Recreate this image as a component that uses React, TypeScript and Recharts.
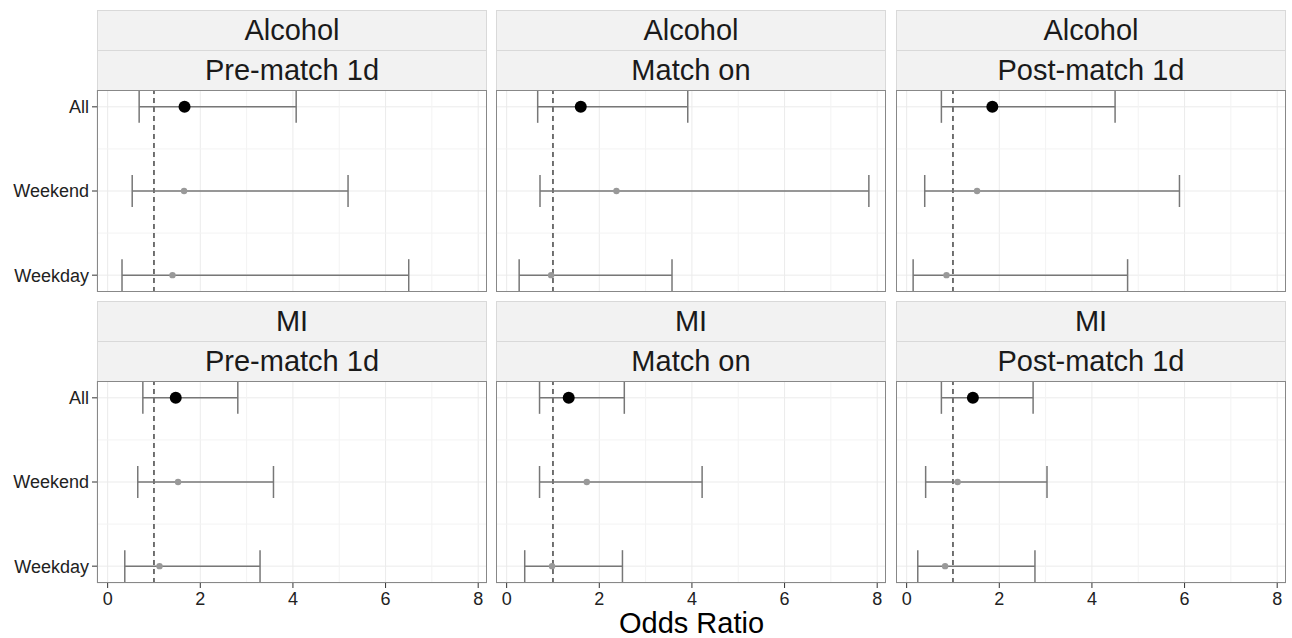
import React from 'react';
import { ComposedChart, Scatter, ErrorBar, XAxis, YAxis, CartesianGrid, ReferenceLine } from 'recharts';

const categories = ['All', 'Weekend', 'Weekday'];
const outcomes = ['Alcohol', 'MI'];
const periods = ['Pre-match 1d', 'Match on', 'Post-match 1d'];
const xTicks = [0, 2, 4, 6, 8];
const xMinor = [1, 3, 5, 7];

// odds ratio + CI per period (rows) and category (cols)
const alcoholOR = [[1.66, 1.65, 1.40], [1.60, 2.37, 0.96], [1.85, 1.52, 0.86]];
const alcoholLower = [[0.68, 0.53, 0.31], [0.67, 0.72, 0.27], [0.75, 0.39, 0.14]];
const alcoholUpper = [[4.07, 5.19, 6.50], [3.91, 7.82, 3.57], [4.50, 5.89, 4.77]];

const miOR = [[1.47, 1.52, 1.12], [1.34, 1.73, 0.98], [1.43, 1.10, 0.83]];
const miLower = [[0.76, 0.65, 0.37], [0.71, 0.71, 0.39], [0.75, 0.41, 0.24]];
const miUpper = [[2.81, 3.58, 3.29], [2.54, 4.22, 2.50], [2.73, 3.03, 2.77]];

const FONT = '"Liberation Sans", Arial, sans-serif';
const PANEL_W = 390;
const PANEL_H = 202;
const colLeft = [97, 496, 896];
const rowTop = [90, 381];

function buildRows(or: number[], lo: number[], hi: number[]) {
    return categories.map((c, i) => ({
        name: c,
        pos: i + 1,
        or: or[i],
        err: [or[i] - lo[i], hi[i] - or[i]],
    }));
}

const bigDot = (props: any) => <circle cx={props.cx} cy={props.cy} r={6} fill="#000" />;
const smallDot = (props: any) => <circle cx={props.cx} cy={props.cy} r={3.2} fill="#999" />;

function Panel({ rows, col, row }: { rows: any[], col: number, row: number }) {
    const showY = col === 0;
    const showX = row === 1;
    const width = PANEL_W + (showY ? colLeft[0] : 0);
    const height = PANEL_H + (showX ? 30 : 0);
    const left = showY ? 0 : colLeft[col];
    const allRow = rows.filter(r => r.name === 'All');
    const subRows = rows.filter(r => r.name !== 'All');
    const tickStyle = { fill: '#222', fontSize: 18, fontFamily: FONT };

    return (
        <div style={{ position: 'absolute', left, top: rowTop[row], width, height }}>
            <ComposedChart width={width} height={height} margin={{ top: 0, right: 0, bottom: 0, left: 0 }}>
                <XAxis
                    type="number"
                    dataKey="or"
                    domain={[-0.23, 8.19]}
                    allowDataOverflow
                    ticks={xTicks}
                    hide={!showX}
                    height={30}
                    axisLine={false}
                    tickLine={{ stroke: '#333' }}
                    tickSize={5}
                    tickMargin={4}
                    tick={tickStyle}
                />
                <YAxis
                    type="number"
                    dataKey="pos"
                    domain={[0.8, 3.2]}
                    allowDataOverflow
                    reversed
                    ticks={[1, 2, 3]}
                    tickFormatter={(v) => categories[v - 1]}
                    hide={!showY}
                    width={colLeft[0]}
                    axisLine={false}
                    tickLine={{ stroke: '#333' }}
                    tickSize={5}
                    tickMargin={3}
                    tick={tickStyle}
                />
                {xMinor.map(v => (
                    <ReferenceLine key={'vx' + v} x={v} stroke="#f3f3f3" strokeWidth={1} />
                ))}
                {[1.5, 2.5].map(v => (
                    <ReferenceLine key={'hy' + v} y={v} stroke="#f3f3f3" strokeWidth={1} />
                ))}
                <CartesianGrid stroke="#ebebeb" />
                <ReferenceLine x={1} stroke="#444" strokeDasharray="5 4" strokeWidth={1.5} />
                <Scatter data={subRows} shape={smallDot} isAnimationActive={false}>
                    <ErrorBar dataKey="err" direction="x" width={16} stroke="#777" strokeWidth={1.5} />
                </Scatter>
                <Scatter data={allRow} shape={bigDot} isAnimationActive={false}>
                    <ErrorBar dataKey="err" direction="x" width={16} stroke="#777" strokeWidth={1.5} />
                </Scatter>
            </ComposedChart>
        </div>
    );
}

function Strip({ text, left, top }: { text: string, left: number, top: number }) {
    return (
        <div style={{
            position: 'absolute', left, top, width: PANEL_W, height: 41, boxSizing: 'border-box',
            background: '#f2f2f2', border: '1px solid #d9d9d9', textAlign: 'center',
            fontFamily: FONT, fontSize: 29, lineHeight: '39px', color: '#1a1a1a',
        }}>
            {text}
        </div>
    );
}

export default function App() {
    const sets = [
        { or: alcoholOR, lo: alcoholLower, hi: alcoholUpper },
        { or: miOR, lo: miLower, hi: miUpper },
    ];
    return (
        <div style={{ position: 'absolute', left: 0, top: 0, width: 1292, height: 638, background: '#fff', overflow: 'hidden' }}>
            {outcomes.map((outcome, r) => periods.map((period, c) => (
                <React.Fragment key={outcome + period}>
                    <Strip text={outcome} left={colLeft[c]} top={rowTop[r] - 80} />
                    <Strip text={period} left={colLeft[c]} top={rowTop[r] - 40} />
                    <Panel rows={buildRows(sets[r].or[c], sets[r].lo[c], sets[r].hi[c])} col={c} row={r} />
                    <div style={{
                        position: 'absolute', left: colLeft[c], top: rowTop[r], width: PANEL_W, height: PANEL_H,
                        boxSizing: 'border-box', border: '1px solid #888', pointerEvents: 'none',
                    }} />
                </React.Fragment>
            )))}
            <div style={{
                position: 'absolute', left: colLeft[0], top: 609, width: colLeft[2] + PANEL_W - colLeft[0],
                textAlign: 'center', fontFamily: FONT, fontSize: 29, lineHeight: '29px', color: '#000',
            }}>
                Odds Ratio
            </div>
        </div>
    );
}
